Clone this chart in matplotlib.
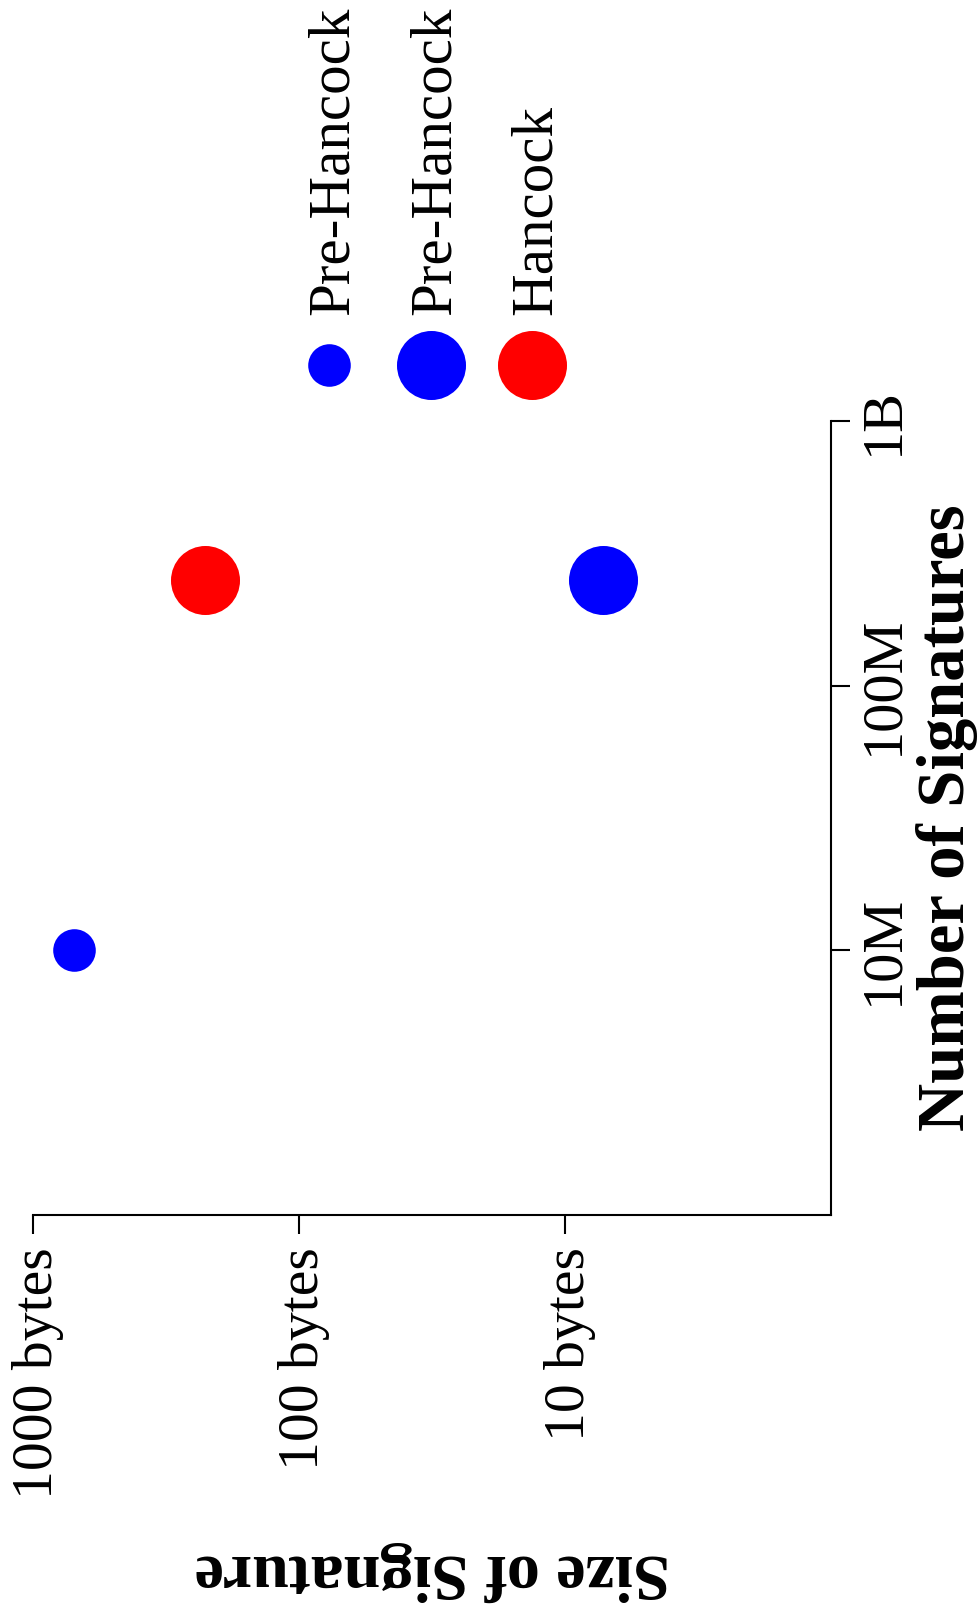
import matplotlib
matplotlib.use("Agg")
import matplotlib.pyplot as plt
import matplotlib.transforms as mtransforms
from matplotlib.ticker import NullLocator

plt.rcParams['font.family'] = ['Liberation Serif', 'DejaVu Serif']

# data
labels = ['Pre-Hancock', 'Pre-Hancock', 'Hancock']
num_signatures = [1e7, 2.5e8, 2.5e8]
signature_bytes = [700, 7.2, 226]

size_ticks = [1000, 100, 10]
size_tick_labels = ['1000 bytes', '100 bytes', '10 bytes']
count_ticks = [1e7, 1e8, 1e9]
count_tick_labels = ['10M', '100M', '1B']

# styles
colors = ['blue', 'blue', 'red']
marker_area = [940, 2470, 2470]

W, H = 977, 1616
fig = plt.figure(figsize=(W / 100, H / 100), dpi=100)

# the whole chart is turned 90 degrees: size runs horizontally, count vertically
ax_l, ax_r, ax_t, ax_b = 33, 831, 421, 1215
ax = fig.add_axes([ax_l / W, 1 - ax_b / H, (ax_r - ax_l) / W, (ax_b - ax_t) / H])

for i in range(len(labels)):
    ax.scatter(signature_bytes[i], num_signatures[i], s=marker_area[i],
               color=colors[i], linewidths=0, clip_on=False, zorder=3)

ax.set_xscale('log')
ax.set_yscale('log')
ax.set_xlim(1000, 1)
ax.set_ylim(1e6, 1e9)

ax.spines['top'].set_visible(False)
ax.spines['left'].set_visible(False)
ax.spines['bottom'].set_linewidth(1.5)
ax.spines['right'].set_linewidth(1.5)

ax.xaxis.set_minor_locator(NullLocator())
ax.yaxis.set_minor_locator(NullLocator())
ax.yaxis.tick_right()

ax.set_xticks(size_ticks, labels=size_tick_labels)
ax.set_yticks(count_ticks, labels=count_tick_labels)
ax.tick_params(axis='x', length=13.5, width=1.5, pad=9.5, labelsize=41.5,
               labelrotation=90)
ax.tick_params(axis='y', length=13.5, width=1.5, pad=5.8, labelsize=42,
               labelrotation=90)
shift = mtransforms.ScaledTranslation(5 / 100, 0, fig.dpi_scale_trans)
for lab in ax.get_xticklabels():
    lab.set_transform(lab.get_transform() + shift)
for lab in ax.get_yticklabels():
    lab.set_verticalalignment('center')

ax.set_xlabel('Size of Signature', fontsize=47.5, fontweight='bold', rotation=180)
ax.xaxis.set_label_coords(0.5, -(1541 - ax_b) / (ax_b - ax_t))
ax.yaxis.set_label_position('right')
ax.set_ylabel('Number of Signatures', fontsize=48, fontweight='bold', rotation=90)
ax.yaxis.set_label_coords((916 - ax_l) / (ax_r - ax_l), 0.5)

# legend, drawn by hand because its entries are rotated too
leg_x = [329, 431, 532]
leg_y = 365
for i in range(len(labels)):
    ax.scatter(leg_x[i] / W, 1 - leg_y / H, s=marker_area[i], color=colors[i],
               linewidths=0, transform=fig.transFigure, clip_on=False)
    fig.text((leg_x[i] + 4.5) / W, 1 - 315 / H, labels[i], fontsize=42.5,
             rotation=90, ha='center', va='bottom')

fig.savefig('out.png', dpi=100)
